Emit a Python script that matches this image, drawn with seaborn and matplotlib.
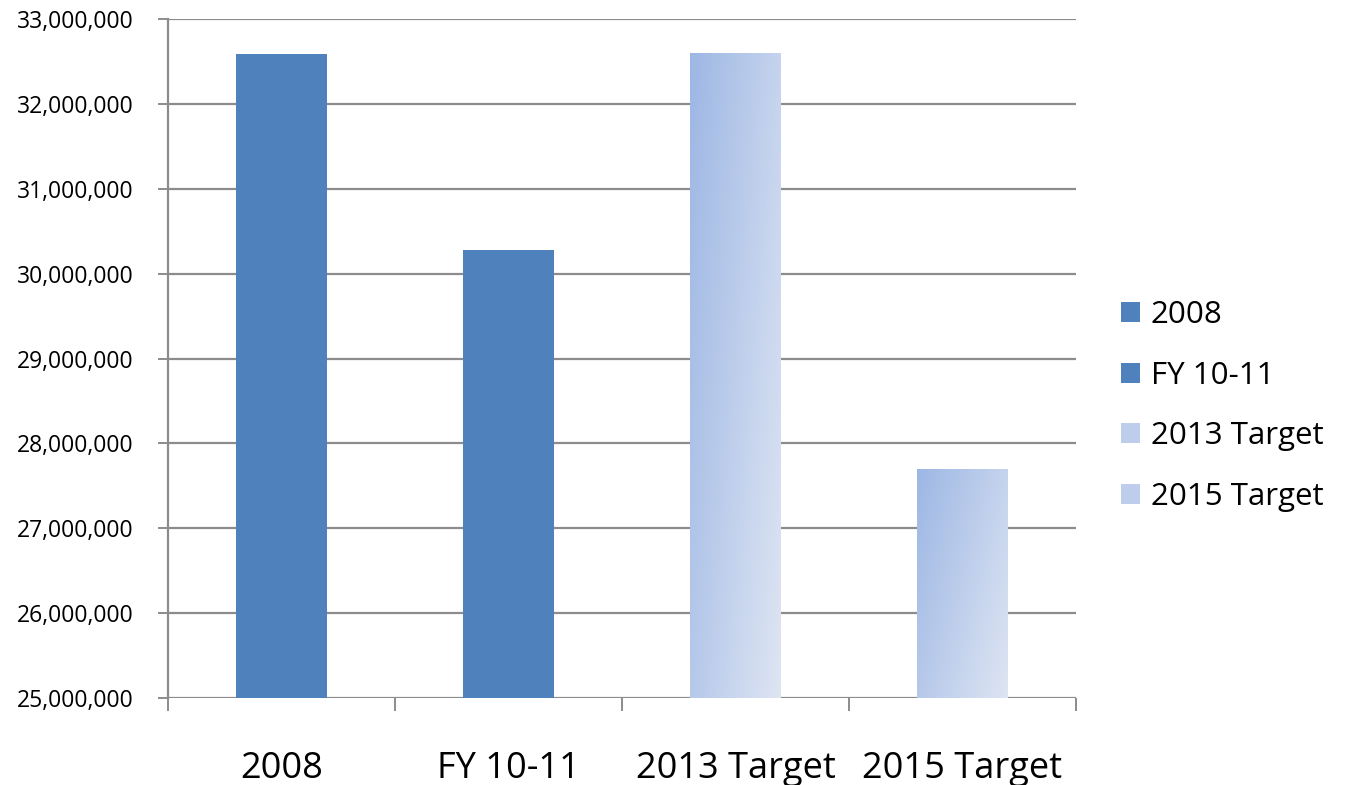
import numpy as np
import pandas as pd
import matplotlib
matplotlib.use("Agg")
import matplotlib.pyplot as plt
from matplotlib.patches import Patch
from matplotlib.colors import LinearSegmentedColormap
from matplotlib.ticker import FuncFormatter, FixedLocator
import seaborn as sns

categories = ["2008", "FY 10-11", "2013 Target", "2015 Target"]
values = [32585000, 30280000, 32590000, 27690000]
y_ticks = [25000000, 26000000, 27000000, 28000000, 29000000, 30000000, 31000000, 32000000, 33000000]

sns.set_theme(style="white")
plt.rcParams['font.family'] = ['Open Sans', 'DejaVu Sans']
plt.rcParams['text.color'] = 'black'

solid = "#4F81BD"
grad_dark = "#9DB7E4"
grad_light = "#DEE5F3"
grid_c = "#8C8C8C"

df = pd.DataFrame({"cat": categories, "val": values})

fig = plt.figure(figsize=(13.47, 7.85), dpi=100)
ax = fig.add_axes([168/1347, 1-698/785, (1076-168)/1347, (698-19)/785])

sns.barplot(data=df, x="cat", y="val", ax=ax, color=solid, width=0.4,
            saturation=1, order=categories)

ymin, ymax = y_ticks[0], y_ticks[-1]
ax.set_ylim(ymin, ymax)
ax.set_xlim(-0.5, len(categories) - 0.5)

# gradient fill for target bars
cmap = LinearSegmentedColormap.from_list("g", [grad_dark, grad_light])
gx, gy = np.meshgrid(np.linspace(0, 1, 200), np.linspace(0, 1, 200))
grad = 0.62 * gx + 0.38 * gy  # row 0 = top when origin='upper'
for i, p in enumerate(ax.patches):
    p.set_edgecolor("none")
    if "Target" in categories[i]:
        x0 = p.get_x()
        w = p.get_width()
        top = p.get_y() + p.get_height()
        bot = max(p.get_y(), ymin)
        p.set_facecolor("none")
        ax.imshow(grad, cmap=cmap, extent=[x0, x0 + w, bot, top],
                  aspect="auto", origin="upper", zorder=p.get_zorder(),
                  interpolation="bilinear")
ax.set_xlim(-0.5, len(categories) - 0.5)
ax.set_ylim(ymin, ymax)

# grid
ax.set_yticks(y_ticks)
ax.yaxis.set_major_formatter(FuncFormatter(lambda v, pos: f"{int(v):,}"))
ax.grid(axis="y", color=grid_c, linewidth=1.6)
ax.set_axisbelow(True)
for s in ["top", "right", "bottom"]:
    ax.spines[s].set_visible(False)
ax.spines["left"].set_color(grid_c)
ax.spines["left"].set_linewidth(1.6)

# x ticks: boundaries as major ticks, labels at centers
ax.xaxis.set_major_locator(FixedLocator(np.arange(-0.5, len(categories), 1.0)))
ax.xaxis.set_minor_locator(FixedLocator(np.arange(len(categories))))
ax.xaxis.set_major_formatter(FuncFormatter(lambda v, pos: ""))
ax.xaxis.set_minor_formatter(FuncFormatter(lambda v, pos: categories[int(round(v))]))
ax.tick_params(axis="x", which="major", direction="out", length=9.5, width=1.4,
               color=grid_c, bottom=True)
ax.tick_params(axis="x", which="minor", length=0, pad=38, labelsize=26,
               labelcolor="black", bottom=True)
ax.tick_params(axis="y", direction="out", length=7, width=1.4, color=grid_c,
               pad=18, labelsize=16.5, labelcolor="black", left=True)
ax.set_xlabel("")
ax.set_ylabel("")

# legend
handles = [Patch(facecolor=solid, edgecolor="none") if "Target" not in c
           else Patch(facecolor="#BFCDEC", edgecolor="none") for c in categories]
leg = fig.legend(handles, categories, loc="center left",
                 bbox_to_anchor=(1105/1347, 1-406/785), frameon=False,
                 fontsize=22.5, handlelength=0.62, handleheight=0.62,
                 labelspacing=0.98, handletextpad=0.35, borderpad=0)
for t in leg.get_texts():
    t.set_color("black")

fig.savefig("out.png", dpi=100)
